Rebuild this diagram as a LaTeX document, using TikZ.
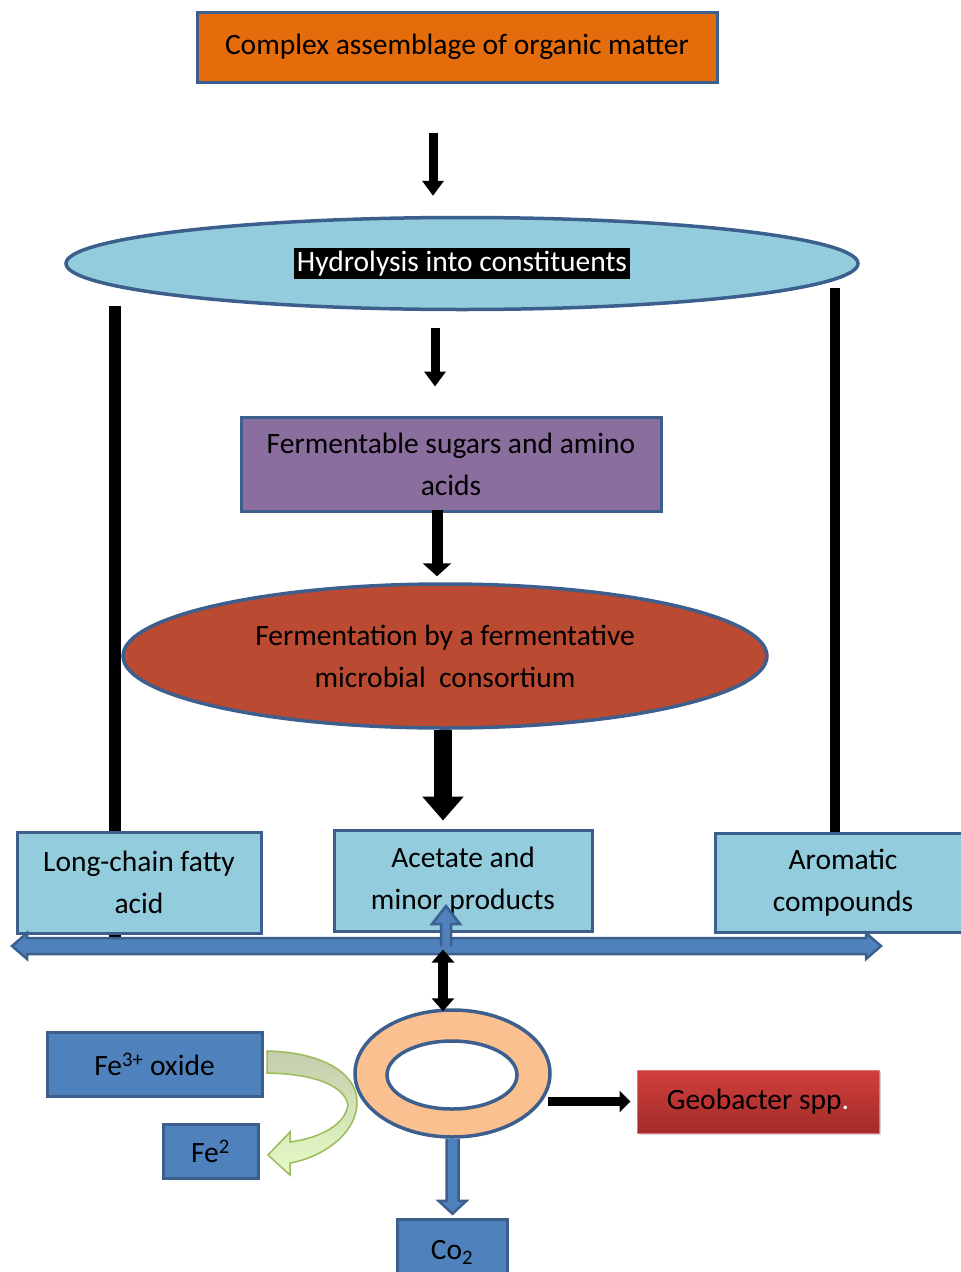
\documentclass[tikz,border=0pt]{standalone}
\usepackage{fontspec}
\setmainfont{Carlito}
\usepackage{tikz}
\usetikzlibrary{arrows.meta,shapes.geometric,backgrounds,shadows}
\definecolor{boxline}{HTML}{3C5F8E}
\definecolor{aqua}{HTML}{93CDDD}
\definecolor{orangebox}{HTML}{E46C0A}
\definecolor{purplebox}{HTML}{8A6E9E}
\definecolor{redoval}{HTML}{BA4A32}
\definecolor{peach}{HTML}{FAC090}
\definecolor{steel}{HTML}{4F81BD}
\definecolor{leafline}{HTML}{9BBB59}
\definecolor{leaftop}{HTML}{C3CEAC}
\definecolor{leafbot}{HTML}{E6FAC6}
\definecolor{geotop}{HTML}{D13F3C}
\definecolor{geobot}{HTML}{A22B29}

\begin{document}
\begin{tikzpicture}[
  x=1pt,y=-1pt,font=\fontsize{29.5}{42}\selectfont,
  bx/.style={draw=boxline,line width=3pt,align=center,inner sep=0pt},
  ov/.style={ellipse,draw=boxline,line width=3.5pt,align=center,inner sep=0pt},
  sm/.style={->,>={Triangle[length=15pt,width=21pt]},line width=9pt},
  md/.style={->,>={Triangle[length=13pt,width=28pt]},line width=11pt},
  lg/.style={->,>={Triangle[length=24pt,width=40pt]},line width=18pt},
  dbl/.style={<->,>={Triangle[length=13pt,width=22pt]},line width=10pt},
  side/.style={line width=#1},
  blueblk/.style={fill=steel,draw=boxline,line width=2.5pt,line join=miter}
]
\useasboundingbox (0,0) rectangle (961,1272);

% main chain
\node[bx,fill=orangebox,minimum width=520pt,minimum height=70pt] (top) at (457,47) {Complex assemblage of organic matter};
\node[ov,fill=aqua,minimum width=792pt,minimum height=92pt] (hyd) at (462,263.5)
  {\fboxsep=3pt\colorbox{black}{\color{white}Hydrolysis into constituents}};
\node[bx,fill=purplebox,minimum width=420pt,minimum height=94pt] (sug) at (451,464) {Fermentable sugars and amino\\acids};
\node[ov,fill=redoval,minimum width=644pt,minimum height=144pt] (ferm) at (445,656)
  {Fermentation by a fermentative\\microbial\ \ consortium};

% products
\node[bx,fill=aqua,minimum width=244pt,minimum height=101pt] (lcfa) at (139,882.5) {Long-chain fatty\\acid};
\node[bx,fill=aqua,minimum width=258pt,minimum height=101pt] (ace) at (463,880.5) {Acetate and\\minor products};
\node[bx,fill=aqua,minimum width=256pt,minimum height=99pt] (aro) at (843,882.5) {Aromatic\\compounds};

% side lines
\coordinate (hl) at (115,306);
\coordinate (hr) at (835,288);
\begin{pgfonlayer}{background}
\draw[side=12pt] (hl) -- ([yshift=-4pt]lcfa.south -| hl);
\draw[side=10pt] (hr) -- (hr |- aro.north);
\end{pgfonlayer}

\draw[sm] ([xshift=-24pt,yshift=-49pt]top.south) -- ([xshift=-29pt,yshift=20pt]hyd.north);
\draw[sm] ([xshift=-27pt,yshift=-17pt]hyd.south) -- ([xshift=-16pt,yshift=29pt]sug.north);
\draw[md] ([xshift=-14pt,yshift=3pt]sug.south) -- ([xshift=-8pt,yshift=6pt]ferm.north);
\draw[lg] ([xshift=-2pt]ferm.south) -- ([xshift=-20pt,yshift=8pt]ace.north);

% shared bar
\draw[blueblk] (12,946) -- (27,933) -- (27,938) -- (866,938) -- (866,933) -- (881,946)
  -- (866,959) -- (866,954) -- (27,954) -- (27,959) -- cycle;
\path[blueblk] (441,946) -- (441,924) -- (432,924) -- (446,906) -- (460,924) -- (451,924) -- (451,946);

% iron reduction
\node[ov,fill=peach,minimum width=195pt,minimum height=127pt] (ring) at (452.5,1073.5) {};
\node[ov,fill=white,minimum width=130pt,minimum height=68pt] (ringin) at (452,1075) {};
\draw[dbl] ([xshift=-20pt,yshift=-17pt]ace.south) -- ([xshift=-9.5pt,yshift=-3pt]ring.north);

\node[bx,fill=steel,minimum width=215pt,minimum height=64pt] (fe3) at (154.5,1064) {Fe\textsuperscript{3+} oxide};
\node[bx,fill=steel,minimum width=95pt,minimum height=54pt] (fe2) at (210.5,1151) {Fe\textsuperscript{2}};
\path[draw=leafline,line width=1.5pt,top color=leaftop,bottom color=leafbot]
  (267,1051) .. controls (320,1052) and (357,1072) .. (357,1102)
  .. controls (357,1135) and (320,1158) .. (290,1163) -- (290,1175) -- (268,1155)
  -- (290,1132) -- (290,1142) .. controls (320,1138) and (345,1125) .. (348,1105)
  .. controls (345,1088) and (320,1074) .. (267,1073) -- cycle;

\node[draw=geotop!70!white,line width=1pt,top color=geotop,bottom color=geobot,
  drop shadow={opacity=0.35},minimum width=242pt,minimum height=63pt] (geo) at (758,1101.5)
  {Geobacter spp\textcolor{white}{.}};
\draw[->,>={Triangle[length=11pt,width=21pt]},line width=9pt,shorten >=6pt] ([xshift=-4pt]ring.east |- geo.west) -- (geo.west);

\node[bx,fill=steel,minimum width=110pt,minimum height=66pt] (co2) at (452,1252) {Co\textsubscript{2}};
\path[blueblk] ([xshift=-6pt]ring.south) -- ++(0,62) -- ++(-8,0) -- ++(14,13) -- ++(14,-13) -- ++(-8,0) -- ++(0,-62);
\end{tikzpicture}
\end{document}
